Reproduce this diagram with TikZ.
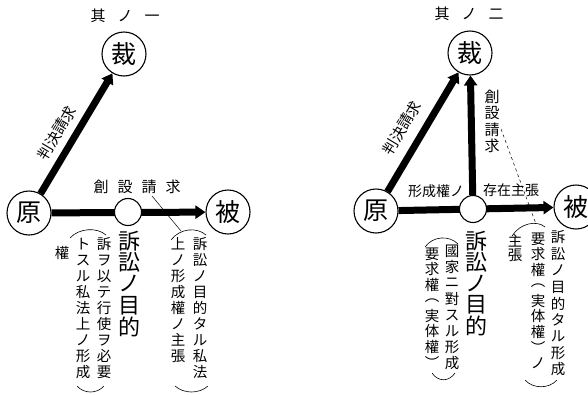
\documentclass[tikz,border=0pt]{standalone}
\usepackage{fontspec}
\newfontfamily\jp{Noto Sans CJK JP}
\usetikzlibrary{arrows.meta}
\pgfdeclarelayer{back}
\pgfdeclarelayer{bg}
\pgfsetlayers{back,bg,main}
\makeatletter
\newcommand{\vstack}[2]{\vbox{\offinterlineskip\@tfor\vs@c:=#2\do{\vbox to #1{\vss\hbox to 1.1em{\hss\vs@c\hss}\vss}}}}
\makeatother
\begin{document}
\begin{tikzpicture}[x=1pt,y=-1pt,
  big/.style={circle, draw, line width=1.1pt, fill=white, inner sep=0pt, minimum size=44pt, font=\jp\fontsize{25}{25}\selectfont},
  small/.style={circle, draw, line width=1.1pt, fill=white, inner sep=0pt, minimum size=27pt},
  band/.style={line width=7pt, -{Triangle[length=10pt,width=13pt]}},
  vt/.style={inner sep=0pt, anchor=north, font=\jp\fontsize{14.5}{14.5}\selectfont},
  vbig/.style={inner sep=0pt, anchor=north, font=\jp\fontsize{22}{22}\selectfont},
  lab/.style={inner sep=0pt, font=\jp\fontsize{15}{15}\selectfont},
  ttl/.style={inner sep=0pt, font=\jp\fontsize{15}{15}\selectfont},
  paren/.style={line width=0.6pt},
  lead/.style={line width=0.5pt}
]
\useasboundingbox (0,0) rectangle (588,394);
\begin{pgfonlayer}{back}
\fill[white] (0,0) rectangle (588,394);
\end{pgfonlayer}

% ---------------- left diagram ----------------
\node[ttl] (t1) at (125,16) {其\hspace{12pt}ノ\hspace{12pt}一};
\node[big] (cai1) at (124,54) {裁};
\node[big] (yuan1) at (29,213) {原};
\node[big] (bei1) at (228,212) {被};
\node[small] (mid1) at (128,212) {};
\begin{pgfonlayer}{bg}
\draw[band] (yuan1) -- (cai1);
\draw[band] (yuan1) -- (bei1);
\end{pgfonlayer}
\node[lab, rotate=59.3] (pj1) at (57,133) {判決請求};
\node[lab] (cs1) at (137,187) {創\hspace{9pt}設\hspace{9pt}請\hspace{9pt}求};
\node[vbig] (ms1) at (129,230) {\vstack{21.5pt}{訴訟ノ目的}};
% left group
\node[vt] (a1) at (104,236) {\vstack{16pt}{訴ヲ以テ行使ヲ必要}};
\node[vt] (a2) at (83,236) {\vstack{16pt}{トスル私法上ノ形成}};
\node[vt] (a3) at (62,245) {\vstack{16pt}{權}};
\draw[paren] (70,238) .. controls (79,228) and (97,227) .. (106,235);
\draw[paren] (77,386) .. controls (84,394) and (97,394) .. (104,386);
% right group
\node[vt] (b1) at (200,236) {\vstack{16pt}{訴訟ノ目的タル私法}};
\node[vt] (b2) at (178,236) {\vstack{16pt}{上ノ形成權ノ主張}};
\draw[paren] (171,240) .. controls (180,228) and (197,227) .. (206,235);
\draw[paren] (175,386) .. controls (184,394) and (199,394) .. (208,386);
\coordinate (l1a) at (152,196);
\coordinate (l1b) at (181,231);
\draw[lead] (l1a) -- (l1b);

% ---------------- right diagram ----------------
\node[ttl] (t2) at (469,14) {其\hspace{12pt}ノ\hspace{12pt}二};
\node[big] (cai2) at (470,53) {裁};
\node[big] (yuan2) at (376,211) {原};
\node[big] (bei2) at (576,207) {被};
\node[small] (mid2) at (473,209) {};
\begin{pgfonlayer}{bg}
\draw[band] (yuan2) -- (cai2);
\draw[band] (mid2) -- (cai2);
\draw[band] (yuan2) -- (bei2);
\end{pgfonlayer}
\node[lab, rotate=59.1] (pj2) at (402,128) {判決請求};
\node[vt, font=\jp\fontsize{15}{15}\selectfont] (cs2) at (492,88) {\vstack{16.5pt}{創設請求}};
\node[lab, font=\jp\fontsize{14}{14}\selectfont] (kx) at (436,191) {形成權ノ};
\node[lab, font=\jp\fontsize{14}{14}\selectfont] (cz) at (511,190) {存在主張};
\coordinate (d2a) at (501,129);
\coordinate (d2b) at (536,224);
\draw[lead, dashed] (d2a) -- (d2b);
\node[vbig] (ms2) at (476,231) {\vstack{21pt}{訴訟ノ目的}};
% left group
\node[vt] (c1) at (452,243) {\vstack{16pt}{國家ニ對スル形成}};
\node[vt] (c2) at (432,246) {\vstack{15.5pt}{要求權︵実体權︶}};
\draw[paren] (425,247) .. controls (433,236) and (449,235) .. (458,244);
\draw[paren] (432,373) .. controls (438,382) and (449,382) .. (455,373);
% right group
\node[vt] (e1) at (558,229) {\vstack{16.5pt}{訴訟ノ目的タル形成}};
\node[vt] (e2) at (538,231) {\vstack{15.5pt}{要求權︵実体權︶ノ}};
\node[vt] (e3) at (515,233) {\vstack{15pt}{主張}};
\draw[paren] (512,236) .. controls (520,223) and (537,220) .. (545,227);
\draw[paren] (525,380) .. controls (533,389) and (549,389) .. (557,380);
\end{tikzpicture}
\end{document}
